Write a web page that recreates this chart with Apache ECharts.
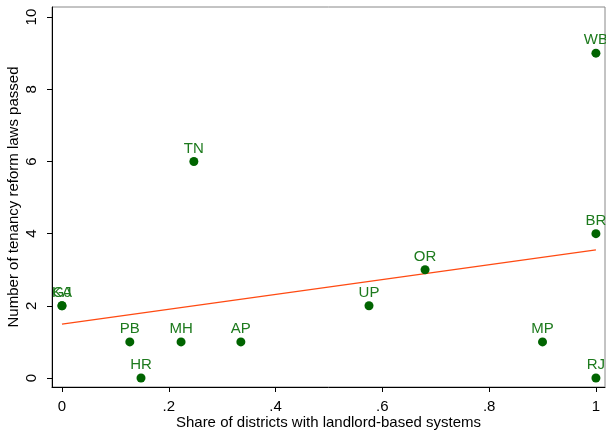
<!DOCTYPE html>
<html>
<head>
<meta charset="utf-8">
<script src="https://cdn.jsdelivr.net/npm/echarts@6/dist/echarts.min.js"></script>
<style>
  html, body { margin: 0; padding: 0; background: #fff; }
  #chart { width: 606px; height: 432px; }
</style>
</head>
<body>
<div id="chart"></div>
<script>
// state codes and values
const states = ['KA', 'GJ', 'PB', 'HR', 'TN', 'MH', 'AP', 'UP', 'OR', 'MP', 'RJ', 'BR', 'WB'];
const shareLandlord = [0, 0, 0.127, 0.148, 0.247, 0.223, 0.335, 0.575, 0.68, 0.9, 1, 1, 1];
const lawsPassed = [2, 2, 1, 0, 6, 1, 1, 2, 3, 1, 0, 4, 9];

// fitted line end points
const fitX = [0, 1];
const fitY = [1.49, 3.55];

const xTicks = [0, 0.2, 0.4, 0.6, 0.8, 1];
const yTicks = [0, 2, 4, 6, 8, 10];

const font = 'Liberation Sans, Arial, sans-serif';

const chart = echarts.init(document.getElementById('chart'));

const fmtX = (v) => {
  if (v === 0) return '0';
  if (v === 1) return '1';
  return String(Math.round(v * 10) / 10).replace(/^0/, '');
};

chart.setOption({
  animation: false,
  grid: {
    left: 52, right: 1, top: 7, bottom: 45,
    outerBoundsMode: 'none',
    containLabel: false,
    show: true, borderColor: '#888', borderWidth: 1, backgroundColor: '#fff',
  },
  xAxis: {
    type: 'value',
    min: -0.0187,
    max: 1.017,
    name: 'Share of districts with landlord-based systems',
    nameLocation: 'middle',
    nameGap: 28,
    nameMoveOverlap: false,
    nameTextStyle: { fontFamily: font, fontSize: 15, color: '#000' },
    axisLine: { show: true, onZero: false, lineStyle: { color: '#000', width: 1 } },
    axisTick: { show: true, inside: false, length: 5, customValues: xTicks, lineStyle: { color: '#000' } },
    axisLabel: {
      customValues: xTicks,
      formatter: fmtX,
      fontFamily: font, fontSize: 15, color: '#000', margin: 12,
    },
    splitLine: { show: false },
  },
  yAxis: {
    type: 'value',
    min: -0.25,
    max: 10.28,
    name: 'Number of tenancy reform laws passed',
    nameLocation: 'middle',
    nameGap: 31,
    nameMoveOverlap: false,
    nameTextStyle: { fontFamily: font, fontSize: 15, color: '#000' },
    axisLine: { show: true, onZero: false, lineStyle: { color: '#000', width: 1 } },
    axisTick: { show: true, inside: false, length: 5, customValues: yTicks, lineStyle: { color: '#000' } },
    axisLabel: {
      customValues: yTicks,
      rotate: 90,
      fontFamily: font, fontSize: 15, color: '#000', margin: 13,
    },
    splitLine: { show: false },
  },
  series: [
    {
      type: 'line',
      data: fitX.map((x, i) => [x, fitY[i]]),
      symbol: 'none',
      lineStyle: { color: '#ff4a12', width: 1.3 },
      z: 2,
    },
    {
      type: 'scatter',
      data: shareLandlord.map((x, i) => [x, lawsPassed[i], states[i]]),
      symbolSize: 9,
      itemStyle: { color: '#006400', opacity: 1 },
      label: {
        show: true,
        position: 'top',
        distance: 1,
        formatter: (p) => p.value[2],
        fontFamily: font,
        fontSize: 15,
        color: '#1d7a1d',
      },
      labelLayout: { hideOverlap: false },
      z: 3,
    },
  ],
});
</script>
</body>
</html>
